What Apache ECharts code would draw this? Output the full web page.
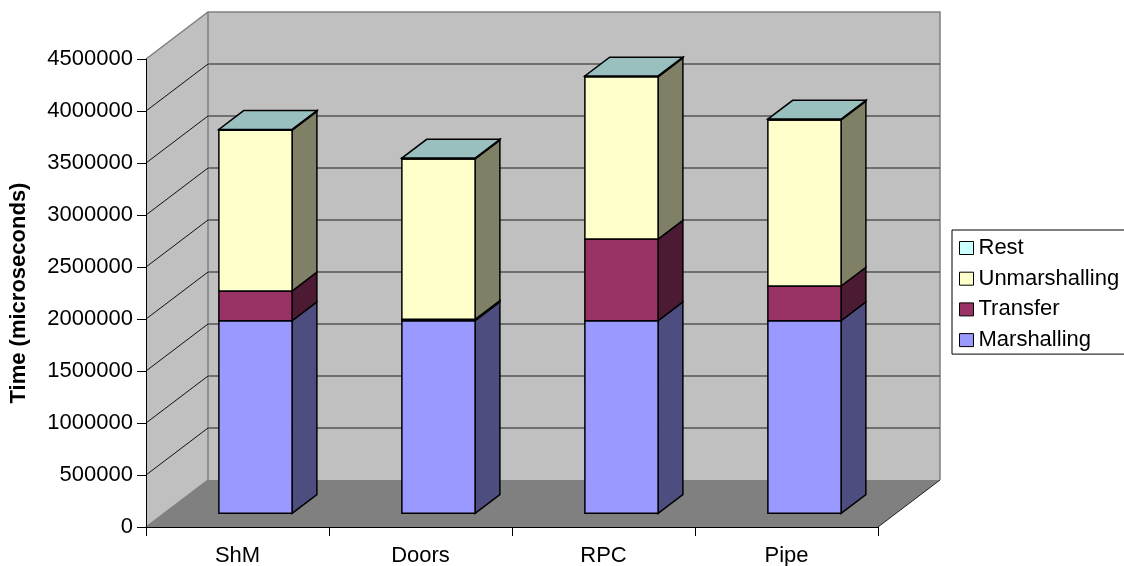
<!DOCTYPE html>
<html>
<head>
<meta charset="utf-8">
<title>Time per transport</title>
<script src="https://cdn.jsdelivr.net/npm/echarts@6/dist/echarts.min.js"></script>
<style>
  html, body { margin: 0; padding: 0; background: #fff; }
  #chart { width: 1124px; height: 566px; }
</style>
</head>
<body>
<div id="chart"></div>
<script>
const categories = ['ShM', 'Doors', 'RPC', 'Pipe'];
const marshalling = [1852000, 1852000, 1852000, 1852000];
const transfer = [286000, 14000, 785000, 334000];
const unmarshalling = [1546000, 1542000, 1561000, 1597000];
const rest = [8000, 8000, 8000, 8000];
const gridValues = [500000, 1000000, 1500000, 2000000, 2500000, 3000000, 3500000, 4000000];

const FONT = '"Liberation Sans", Arial, sans-serif';
// offset of the back wall from the front plane
const DEPTH_X = 62;
const DEPTH_Y = 47;
// bars sit inside the depth, as fractions of it
const BAR_FRONT = 0.29;
const BAR_BACK = 0.69;
const BAR_WIDTH = 0.4;

const seriesDefs = [
  { name: 'Marshalling', values: marshalling, color: '#9999FF', side: '#4D4D80', top: '#7373BF' },
  { name: 'Transfer', values: transfer, color: '#993366', side: '#4D1A33', top: '#73264D' },
  { name: 'Unmarshalling', values: unmarshalling, color: '#FFFFCC', side: '#808066', top: '#BFBF99' },
  { name: 'Rest', values: rest, color: '#CCFFFF', side: '#668080', top: '#99BFBF' }
];

function poly(points, fill, stroke, width) {
  return {
    type: 'polygon',
    shape: { points: points },
    style: { fill: fill, stroke: stroke || null, lineWidth: width || 0 }
  };
}

function line(points, stroke, width) {
  return {
    type: 'polyline',
    shape: { points: points },
    style: { fill: null, stroke: stroke, lineWidth: width }
  };
}

function renderWalls(params) {
  const c = params.coordSys;
  const l = c.x, r = c.x + c.width, t = c.y, b = c.y + c.height;
  const dx = DEPTH_X, dy = DEPTH_Y;
  return {
    type: 'group',
    children: [
      poly([[l + dx, t - dy], [r + dx, t - dy], [r + dx, b - dy], [l + dx, b - dy]], '#C0C0C0'),
      poly([[l, t], [l + dx, t - dy], [l + dx, b - dy], [l, b]], '#C0C0C0'),
      poly([[l, b], [l + dx, b - dy], [r + dx, b - dy], [r, b]], '#808080'),
      line([[l, b], [l + dx, b - dy], [l + dx, t - dy]], '#808080', 1.5),
      line([[l, t], [l + dx, t - dy], [r + dx, t - dy], [r + dx, b - dy]], '#808080', 1.5),
      line([[r + dx, b - dy], [r, b]], '#222', 1)
    ]
  };
}

function renderGrid(params, api) {
  const c = params.coordSys;
  const y = api.coord([0, api.value(0)])[1];
  const x = c.x;
  return {
    type: 'group',
    children: [
      line([[x, y], [x + DEPTH_X, y - DEPTH_Y]], '#111', 1),
      line([[x + DEPTH_X, y - DEPTH_Y], [x + c.width + DEPTH_X, y - DEPTH_Y]], '#555', 1.5)
    ]
  };
}

function barRenderer(def, isLast) {
  return function (params, api) {
    const i = api.value(0);
    const band = api.size([1, 0])[0];
    const w = band * BAR_WIDTH;
    const low = api.coord([i, api.value(1)]);
    const high = api.coord([i, api.value(2)]);
    const fx = DEPTH_X * BAR_FRONT, fy = DEPTH_Y * BAR_FRONT;
    const bx = DEPTH_X * (BAR_BACK - BAR_FRONT), by = DEPTH_Y * (BAR_BACK - BAR_FRONT);
    const x0 = low[0] + fx - w / 2;
    const x1 = x0 + w;
    const y0 = low[1] - fy;
    const y1 = high[1] - fy;
    const children = [
      poly([[x1, y0], [x1 + bx, y0 - by], [x1 + bx, y1 - by], [x1, y1]], def.side, '#000', 1.5),
      poly([[x0, y0], [x1, y0], [x1, y1], [x0, y1]], def.color, '#000', 1.5)
    ];
    if (isLast) {
      children.push(poly([[x0, y1], [x1, y1], [x1 + bx, y1 - by], [x0 + bx, y1 - by]], def.top, '#000', 1.5));
    }
    return { type: 'group', children: children };
  };
}

// running totals so each segment knows where it starts and ends
const totals = categories.map(() => 0);
const barSeries = seriesDefs.map((def, n) => {
  const data = def.values.map((v, i) => {
    const item = [i, totals[i], totals[i] + v];
    totals[i] += v;
    return item;
  });
  return {
    name: def.name,
    type: 'custom',
    z: 2,
    itemStyle: { color: def.color },
    renderItem: barRenderer(def, n === seriesDefs.length - 1),
    encode: { x: 0, y: [1, 2] },
    data: data
  };
});

const chart = echarts.init(document.getElementById('chart'));
chart.setOption({
  animation: false,
  backgroundColor: '#fff',
  grid: { left: 146, right: 246, top: 59, height: 468, outerBoundsMode: 'none' },
  legend: {
    orient: 'vertical',
    left: 952,
    top: 230,
    padding: [7, 20, 3, 7],
    itemWidth: 14,
    itemHeight: 13,
    itemGap: 8.7,
    borderColor: '#000',
    borderWidth: 1,
    icon: 'rect',
    itemStyle: { borderColor: '#000', borderWidth: 1 },
    textStyle: { fontFamily: FONT, fontSize: 22, color: '#000' },
    data: ['Rest', 'Unmarshalling', 'Transfer', 'Marshalling']
  },
  xAxis: {
    type: 'category',
    data: categories,
    z: 3,
    axisLine: { lineStyle: { color: '#000', width: 1 } },
    axisTick: { show: true, length: 9, lineStyle: { color: '#000' } },
    axisLabel: { fontFamily: FONT, fontSize: 22, color: '#000', margin: 18 },
    splitLine: { show: false }
  },
  yAxis: {
    type: 'value',
    min: 0,
    max: 4500000,
    interval: 500000,
    z: 3,
    name: 'Time (microseconds)',
    nameLocation: 'middle',
    nameGap: 116,
    nameTextStyle: { fontFamily: FONT, fontSize: 22, fontWeight: 'bold', color: '#000' },
    axisLine: { show: true, lineStyle: { color: '#000', width: 1 } },
    axisTick: { show: true, length: 9, lineStyle: { color: '#000' } },
    axisLabel: { fontFamily: FONT, fontSize: 22, color: '#000', margin: 13, formatter: v => String(v) },
    splitLine: { show: false }
  },
  series: [
    { type: 'custom', z: 1, silent: true, renderItem: renderWalls, data: [[0, 0]], encode: { x: 0, y: 1 } },
    {
      type: 'custom',
      z: 1,
      silent: true,
      renderItem: renderGrid,
      data: gridValues.map(v => [v]),
      encode: { y: 0 }
    }
  ].concat(barSeries)
});
</script>
</body>
</html>
